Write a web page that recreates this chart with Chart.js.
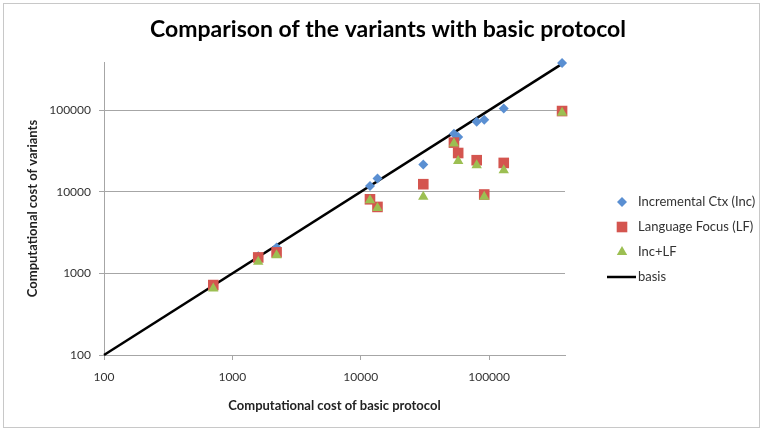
<!DOCTYPE html>
<html>
<head>
<meta charset="utf-8">
<title>Comparison of the variants with basic protocol</title>
<script src="https://cdn.jsdelivr.net/npm/chart.js@4/dist/chart.umd.min.js"></script>
<style>
    html, body { margin: 0; padding: 0; background: #fff; }
    #wrap { position: relative; width: 763px; height: 431px; }
    #frame { position: absolute; left: 3px; top: 3px; width: 755px; height: 423px; border: 1px solid #c8c8c8; }
    canvas { position: absolute; left: 0; top: 0; }
</style>
</head>
<body>
<div id="wrap">
    <div id="frame"></div>
    <canvas id="grafico" width="763" height="431"></canvas>
</div>
<script>
// Dados (escala log-log)
const custoBasico = [710, 1590, 2210, 11800, 13500, 30700, 53200, 57400, 80000, 91600, 130000, 370000];
const custoInc = [720, 1620, 2080, 11800, 14600, 21600, 51600, 47000, 72000, 76700, 105000, 378000];
const custoLF = [720, 1570, 1810, 8100, 6530, 12400, 40100, 29900, 24400, 9270, 22600, 97700];
const custoIncLF = [655, 1390, 1670, 7890, 6350, 8670, 39000, 23900, 21200, 8670, 18400, 93400];
const basisX = [100, 370000];
const ticksLog = [100, 1000, 10000, 100000];
const eixoMin = 100;
const eixoMax = 390000;

const nomes = ['Incremental Ctx (Inc)', 'Language Focus (LF)', 'Inc+LF', 'basis'];
const titulo = 'Comparison of the variants with basic protocol';

function pares(xs, ys) {
    return xs.map((x, i) => ({ x: x, y: ys[i] }));
}

const fonte = 'Lato, "Open Sans", sans-serif';

// Título centrado na largura total do quadro
const tituloCentro = {
    id: 'tituloCentro',
    afterDraw(chart) {
        const ctx = chart.ctx;
        ctx.save();
        ctx.fillStyle = '#000';
        ctx.font = 'bold 23px ' + fonte;
        ctx.textAlign = 'center';
        ctx.textBaseline = 'middle';
        ctx.fillText(titulo, 388, 30);
        ctx.restore();
    }
};

// Legenda desenhada à direita, como no Excel
const legendaDireita = {
    id: 'legendaDireita',
    afterDraw(chart) {
        const ctx = chart.ctx;
        const xMarca = 622;
        const xTexto = 638;
        let y = 202;
        chart.data.datasets.forEach(ds => {
            ctx.save();
            if (ds.showLine) {
                ctx.strokeStyle = ds.borderColor;
                ctx.lineWidth = ds.borderWidth;
                ctx.beginPath();
                ctx.moveTo(xMarca - 15, y);
                ctx.lineTo(xTexto - 2, y);
                ctx.stroke();
            } else {
                ctx.fillStyle = ds.backgroundColor;
                Chart.helpers.drawPoint(ctx, { pointStyle: ds.pointStyle, radius: ds.pointRadius, borderWidth: 0, rotation: 0 }, xMarca, y);
            }
            ctx.fillStyle = '#333';
            ctx.font = '13px ' + fonte;
            ctx.textBaseline = 'middle';
            ctx.textAlign = 'left';
            ctx.fillText(ds.label, xTexto, y);
            ctx.restore();
            y += 25;
        });
    }
};

const ctx = document.getElementById('grafico').getContext('2d');
const grafico = new Chart(ctx, {
    type: 'scatter',
    data: {
        datasets: [{
            label: nomes[0],
            data: pares(custoBasico, custoInc),
            pointStyle: 'rectRot',
            pointRadius: 5,
            backgroundColor: '#5a8fd2',
            borderWidth: 0,
            clip: false,
            order: 3
        }, {
            label: nomes[1],
            data: pares(custoBasico, custoLF),
            pointStyle: 'rect',
            pointRadius: 7.5,
            backgroundColor: '#d4554f',
            borderWidth: 0,
            clip: false,
            order: 2
        }, {
            label: nomes[2],
            data: pares(custoBasico, custoIncLF),
            pointStyle: 'triangle',
            pointRadius: 6,
            backgroundColor: '#9cbf52',
            borderWidth: 0,
            clip: false,
            order: 1
        }, {
            label: nomes[3],
            data: pares(basisX, basisX),
            showLine: true,
            pointRadius: 0,
            borderColor: '#000',
            borderWidth: 2.5,
            backgroundColor: '#000',
            clip: false,
            order: 4
        }]
    },
    options: {
        responsive: false,
        animation: false,
        layout: {
            padding: { left: 20, right: 198, top: 62, bottom: 15 }
        },
        plugins: {
            legend: { display: false },
            tooltip: { enabled: false },
            title: { display: false }
        },
        scales: {
            x: {
                type: 'logarithmic',
                min: eixoMin,
                max: eixoMax,
                afterBuildTicks: s => { s.ticks = ticksLog.map(v => ({ value: v })); },
                afterFit: s => { s.height = 61; },
                grid: { drawOnChartArea: false, drawTicks: true, tickLength: 5, color: '#a6a6a6' },
                border: { color: '#a6a6a6', width: 1 },
                ticks: {
                    color: '#333',
                    padding: 10,
                    maxRotation: 0,
                    font: { family: fonte, size: 12 },
                    callback: v => String(v)
                },
                title: {
                    display: true,
                    text: 'Computational cost of basic protocol',
                    color: '#222',
                    font: { family: fonte, size: 13, weight: 'bold' },
                    padding: { top: 0, bottom: 2 }
                }
            },
            y: {
                type: 'logarithmic',
                min: eixoMin,
                max: eixoMax,
                afterBuildTicks: s => { s.ticks = ticksLog.map(v => ({ value: v })); },
                afterFit: s => { s.width = 84; },
                grid: { color: '#a6a6a6', lineWidth: 1, tickLength: 5 },
                border: { color: '#a6a6a6', width: 1 },
                ticks: {
                    color: '#333',
                    padding: 8,
                    font: { family: fonte, size: 12 },
                    callback: v => String(v)
                },
                title: {
                    display: true,
                    text: 'Computational cost of variants',
                    color: '#222',
                    font: { family: fonte, size: 13, weight: 'bold' },
                    padding: { top: 5, bottom: 0 }
                }
            }
        }
    },
    plugins: [tituloCentro, legendaDireita]
});
</script>
</body>
</html>
